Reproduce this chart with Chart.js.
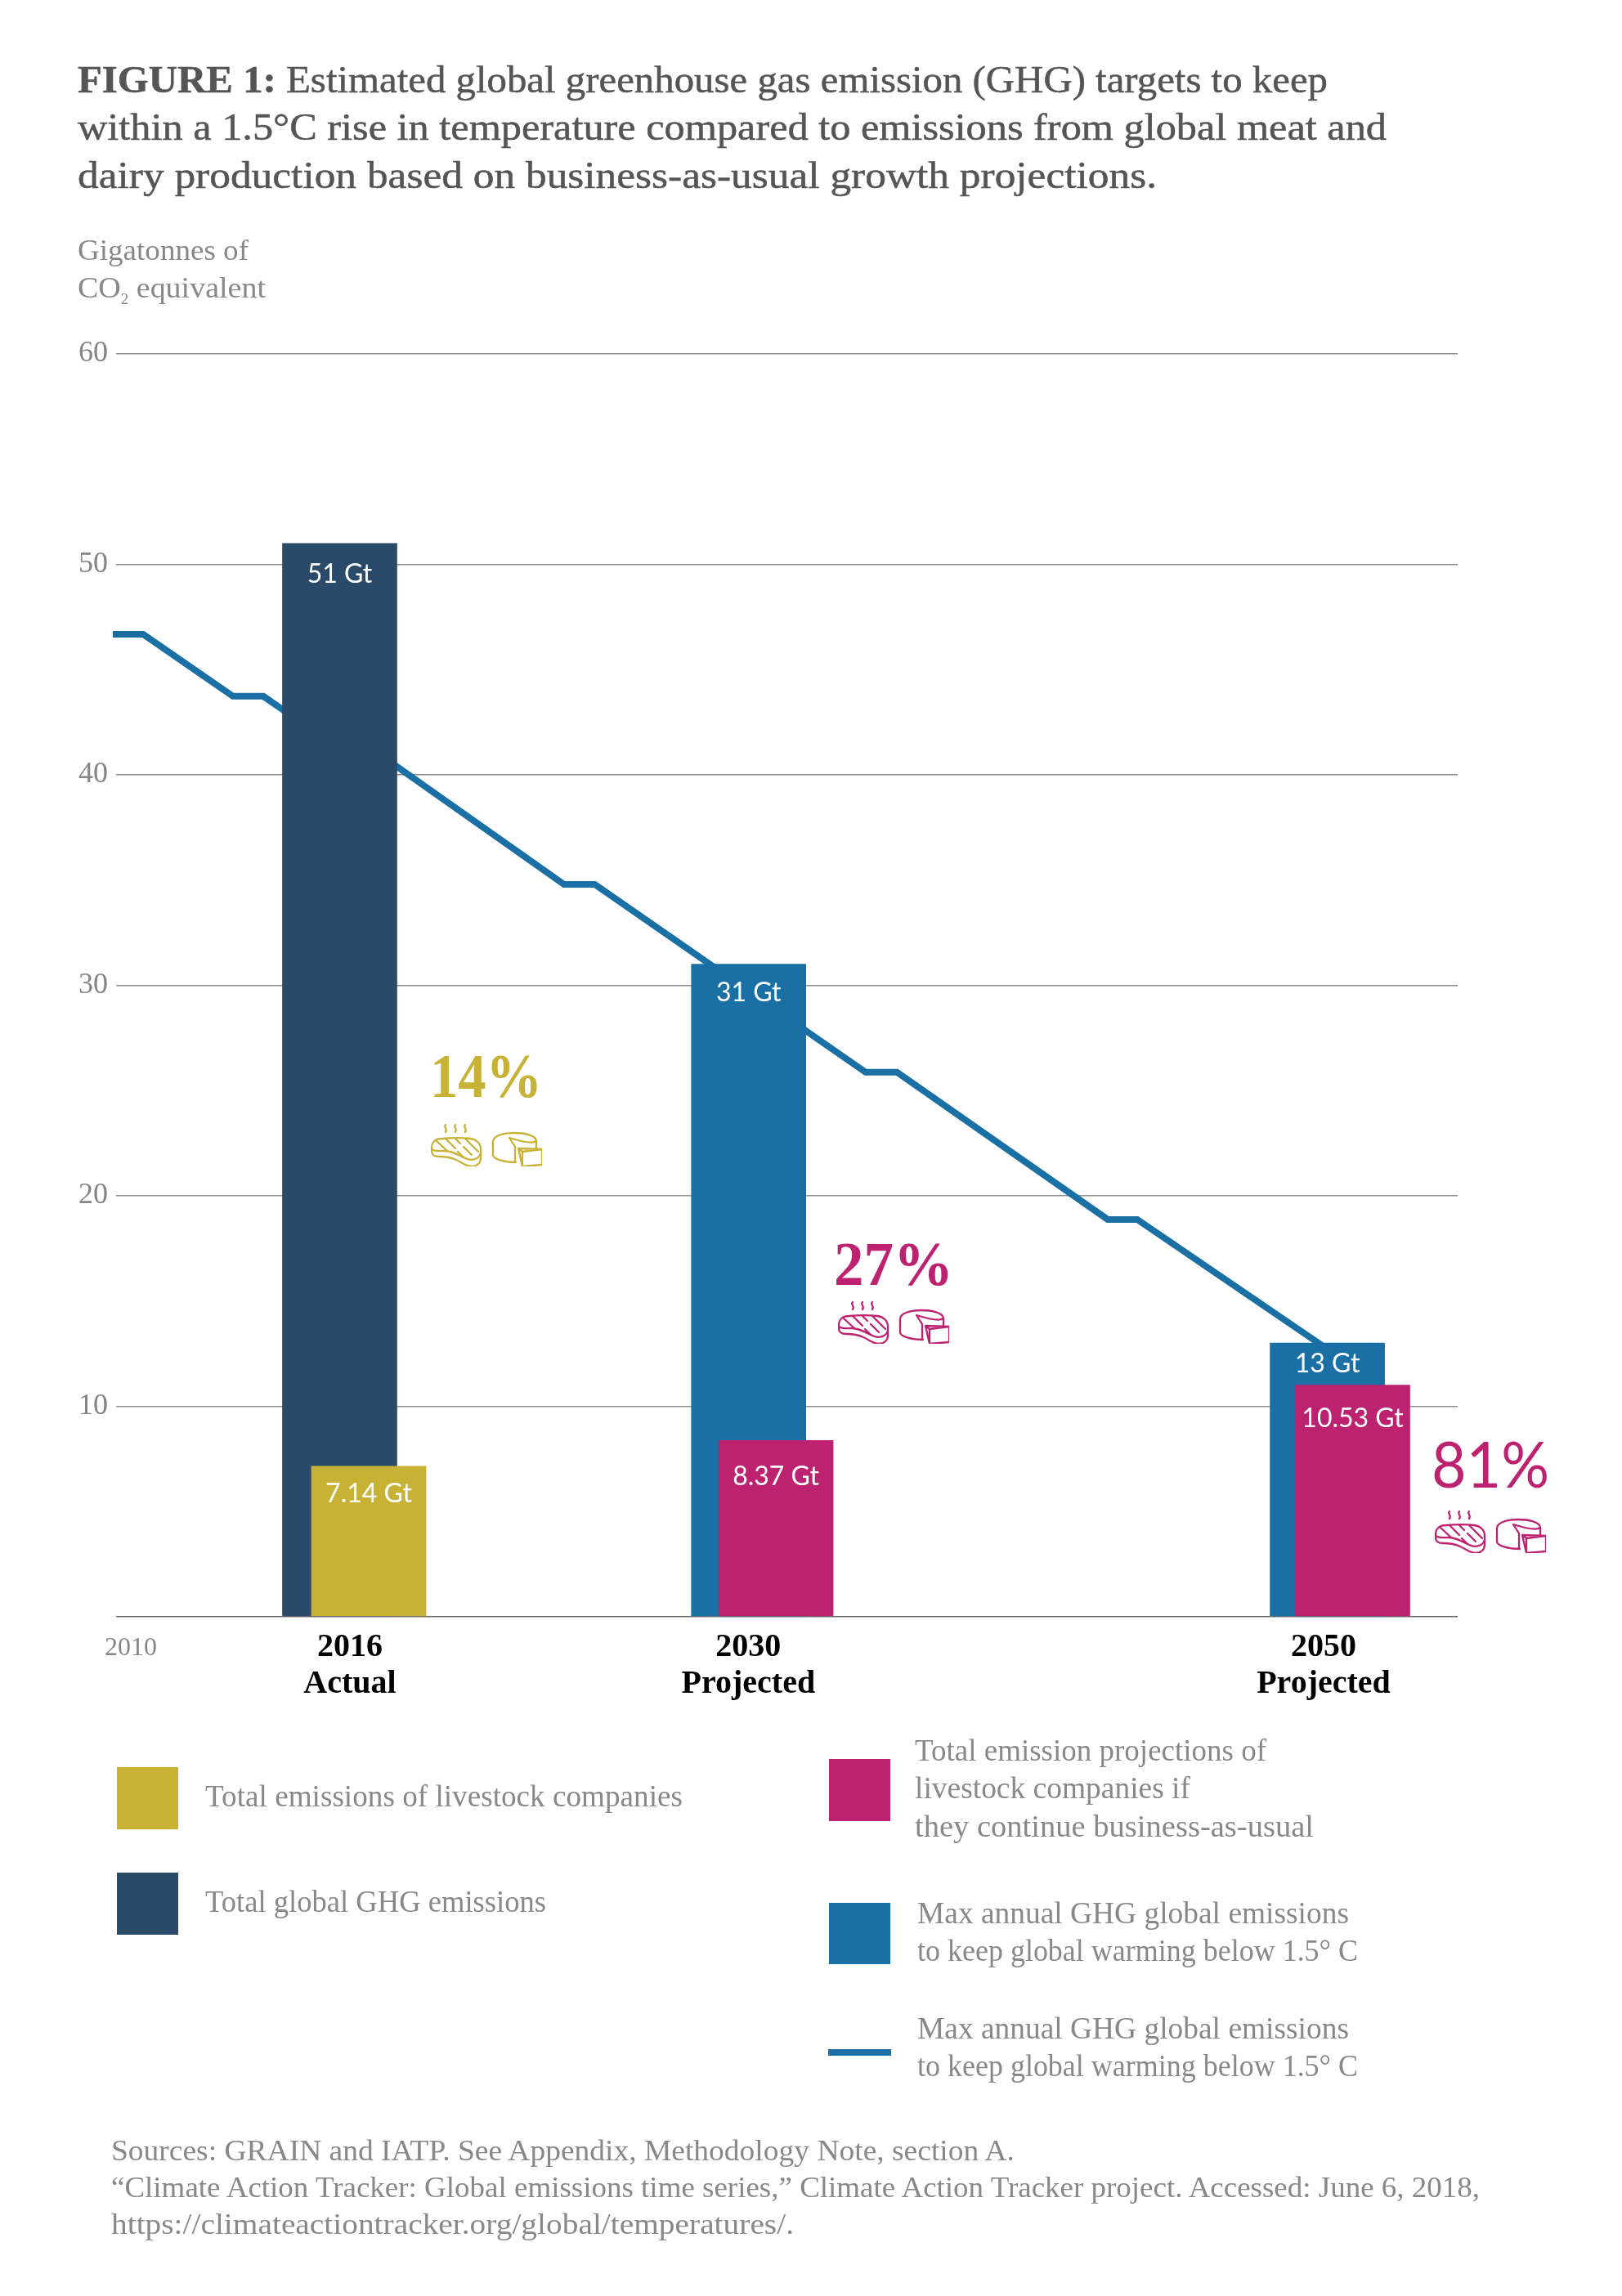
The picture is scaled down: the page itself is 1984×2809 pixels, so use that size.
<!DOCTYPE html>
<html>
<head>
<meta charset="utf-8">
<title>Figure 1</title>
<script src="https://cdn.jsdelivr.net/npm/chart.js@4"></script>
<style>
  html, body { margin: 0; padding: 0; background: #fff; }
  #page { position: relative; width: 1984px; height: 2809px; overflow: hidden; }
  #chart { position: absolute; left: 0; top: 0; }
  .t { position: absolute; white-space: nowrap; line-height: 1; font-family: "Liberation Serif", serif; color: #888; transform-origin: left center; }
  .t sub { font-size: 0.5em; line-height: 0; }
  .swatch { position: absolute; }
  svg.icon { position: absolute; width: 136px; height: 52px; fill: none; stroke-width: 2.3; stroke-linecap: round; stroke-linejoin: round; }
</style>
</head>
<body>
<div id="page">
  <canvas id="chart" width="1984" height="2809"></canvas>
  <svg width="0" height="0" style="position:absolute">
    <symbol id="meatCheese" viewBox="0 0 136 52">
      <path d="M18 1C15 4 21 6 18 10M30 1C27 4 33 6 30 10M42 1C39 4 45 6 42 10"/>
      <path d="M1 29C1 22 6 18 14 18C24 17 40 17 48 18C56 19 61 24 61 31L61 42C61 48 56 52 50 52C43 52 38 47 31 44C25 41 18 40 10 40C4 40 1 37 1 33Z"/>
      <path d="M1 31C5 34 10 33 17 33C26 33 34 38 42 42C50 46 59 43 61 36"/>
      <path d="M7 21L20 33M18 18L30 30M33 34L39 40M30 18L36 24M40 28L50 38M42 18L58 34"/>
      <path d="M76 22C76 14 90 11 102 11C114 11 129 14 129 21L129 30M76 22L76 38C76 43 90 47 104 47"/>
      <path d="M129 21C125 24 112 22 96 17L103 28L103 47"/>
      <path d="M107 30L136 31L136 50L112 52ZM112 52L112 34L107 30M112 34L136 31"/>
    </symbol>
  </svg>
</div>
<script>
const barYears = [2016, 2030.09, 2050.03];
const totalGt = [51, 31, 13];
const totalLabels = ["51 Gt", "31 Gt", "13 Gt"];
const livestockYears = [2017, 2031.03, 2050.9];
const livestockGt = [7.14, 8.37, 11];
const livestockLabels = ["7.14 Gt", "8.37 Gt", "10.53 Gt"];

// pathway line, flats and all
const pathwayYears = [2008.18, 2009.23, 2012.32, 2013.37, 2015.34, 2016.46, 2023.73, 2024.79, 2034.12, 2035.2, 2042.46, 2043.48, 2050.04];
const pathwayGt = [46.68, 46.68, 43.73, 43.73, 41.86, 41.86, 34.79, 34.79, 25.87, 25.87, 18.87, 18.87, 12.7];

const yTicks = [0, 10, 20, 30, 40, 50, 60];
const xTickYears = [2008.8, 2016.35, 2030.08, 2049.9];
const xTickLabels = ["2010", ["2016", "Actual"], ["2030", "Projected"], ["2050", "Projected"]];

const navy = "#2a4a69";
const blue = "#1a6fa5";
const gold = "#c7b236";
const pink = "#bd2270";

const barValueLabels = {
  id: "barValueLabels",
  afterDatasetsDraw(chart) {
    const ctx = chart.ctx;
    const drop = [[38, 35, 26], [34, 44, 41]];
    ctx.save();
    ctx.fillStyle = "#fff";
    ctx.font = '32px Lato';
    ctx.textAlign = "center";
    ctx.textBaseline = "middle";
    [totalLabels, livestockLabels].forEach((labels, d) => {
      const bars = chart.getDatasetMeta(d).data;
      labels.forEach((text, i) => {
        ctx.fillText(text, bars[i].x, bars[i].y + drop[d][i]);
      });
    });
    ctx.restore();
  },
};

new Chart(document.getElementById("chart"), {
  type: "bar",
  data: {
    datasets: [
      {
        data: barYears.map((x, i) => ({ x, y: totalGt[i] })),
        backgroundColor: [navy, blue, blue],
        barThickness: 140,
        grouped: false,
        order: 2,
      },
      {
        data: livestockYears.map((x, i) => ({ x, y: livestockGt[i] })),
        backgroundColor: [gold, pink, pink],
        barThickness: 140,
        grouped: false,
        order: 1,
      },
      {
        type: "line",
        data: pathwayYears.map((x, i) => ({ x, y: pathwayGt[i] })),
        borderColor: blue,
        borderWidth: 8,
        pointRadius: 0,
        tension: 0,
        clip: false,
        order: 3,
      },
    ],
  },
  options: {
    responsive: false,
    animation: false,
    layout: { padding: { top: 433, right: 201, bottom: 711.3, left: 0 } },
    plugins: { legend: { display: false }, tooltip: { enabled: false } },
    scales: {
      x: {
        type: "linear",
        offset: false,
        min: 2008.296,
        max: 2054.52,
        grid: { display: false },
        border: { display: false },
        afterFit: (scale) => { scale.height = 120; },
        afterBuildTicks: (axis) => { axis.ticks = xTickYears.map((value) => ({ value })); },
        ticks: {
          autoSkip: false,
          maxRotation: 0,
          padding: 8,
          callback: (value, index) => xTickLabels[index],
          color: (c) => (c.index === 0 ? "#858585" : "#000"),
          font: (c) => (c.index === 0
            ? { family: "Liberation Serif", size: 32, lineHeight: 1.41 }
            : { family: "Liberation Serif", size: 40, weight: "bold", lineHeight: 1.12 }),
        },
      },
      y: {
        min: 0,
        max: 60,
        border: { display: false },
        afterFit: (scale) => { scale.width = 142; },
        afterBuildTicks: (axis) => { axis.ticks = yTicks.map((value) => ({ value })); },
        grid: {
          drawTicks: false,
          lineWidth: 1.5,
          color: (c) => (c.tick.value === 0 ? "#666" : "#8f8f8f"),
        },
        ticks: {
          padding: 10,
          color: "#858585",
          font: { family: "Liberation Serif", size: 36 },
          callback: (value) => (value === 0 ? "" : value),
        },
      },
    },
  },
  plugins: [barValueLabels],
});

// text outside the plot, squeezed or stretched to the widths in the figure
const page = document.getElementById("page");
function putText(html, x, baseline, size, right, style) {
  const el = document.createElement("div");
  el.className = "t";
  el.innerHTML = html;
  el.style.left = x + "px";
  el.style.fontSize = size + "px";
  Object.assign(el.style, style || {});
  const asc = style && style.fontFamily === "Lato" ? 0.887 : 0.8375;
  el.style.top = baseline - asc * size + "px";
  page.appendChild(el);
  el.style.transform = `scaleX(${(right - x) / el.getBoundingClientRect().width})`;
}
function putBox(x0, y0, x1, y1, color) {
  const el = document.createElement("div");
  el.className = "swatch";
  el.style.cssText = `left:${x0}px;top:${y0}px;width:${x1 - x0}px;height:${y1 - y0}px;background:${color}`;
  page.appendChild(el);
}
function putIcon(x, y, color) {
  page.insertAdjacentHTML("beforeend",
    `<svg class="icon" style="left:${x}px;top:${y}px;stroke:${color}"><use href="#meatCheese"/></svg>`);
}

const titleStyle = { color: "#555", webkitTextStroke: "0.5px #555" };
putText("<b>FIGURE 1:</b> Estimated global greenhouse gas emission (GHG) targets to keep", 95, 113, 47, 1624, titleStyle);
putText("within a 1.5°C rise in temperature compared to emissions from global meat and", 95, 171, 47, 1696, titleStyle);
putText("dairy production based on business-as-usual growth projections.", 95, 230, 47, 1415, titleStyle);

putText("Gigatonnes of", 95, 318, 36, 304);
putText("CO<sub>2</sub> equivalent", 95, 364, 36, 325);

putText("14%", 526, 1342, 76, 663, { color: gold, fontWeight: "bold" });
putText("27%", 1020, 1572, 76, 1166, { color: pink, fontWeight: "bold" });
putText("81%", 1751, 1820, 78, 1895, { color: pink, fontFamily: "Lato" });
putIcon(526.5, 1375, gold);
putIcon(1025, 1592, pink);
putIcon(1755, 1848, pink);

putBox(142.7, 2162, 218, 2237.7, gold);
putBox(142.7, 2291, 218, 2366.7, navy);
putBox(1014, 2152, 1089, 2228, pink);
putBox(1014, 2327.6, 1089, 2402.7, blue);
putBox(1013, 2507, 1090, 2514.5, blue);

putText("Total emissions of livestock companies", 251, 2210, 37, 835);
putText("Total global GHG emissions", 251, 2339, 37, 668);
putText("Total emission projections of", 1119, 2154, 37, 1549);
putText("livestock companies if", 1119, 2200, 37, 1456);
putText("they continue business-as-usual", 1119, 2247, 37, 1607);
putText("Max annual GHG global emissions", 1122, 2352.5, 37, 1650);
putText("to keep global warming below 1.5° C", 1122, 2398.6, 37, 1661);
putText("Max annual GHG global emissions", 1122, 2493.7, 37, 1650);
putText("to keep global warming below 1.5° C", 1122, 2540, 37, 1661);

putText("Sources: GRAIN and IATP. See Appendix, Methodology Note, section A.", 136, 2643, 36, 1241);
putText("“Climate Action Tracker: Global emissions time series,” Climate Action Tracker project. Accessed: June 6, 2018,", 136, 2688, 36, 1810);
putText("https://climateactiontracker.org/global/temperatures/.", 136, 2733, 36, 971);
</script>
</body>
</html>
